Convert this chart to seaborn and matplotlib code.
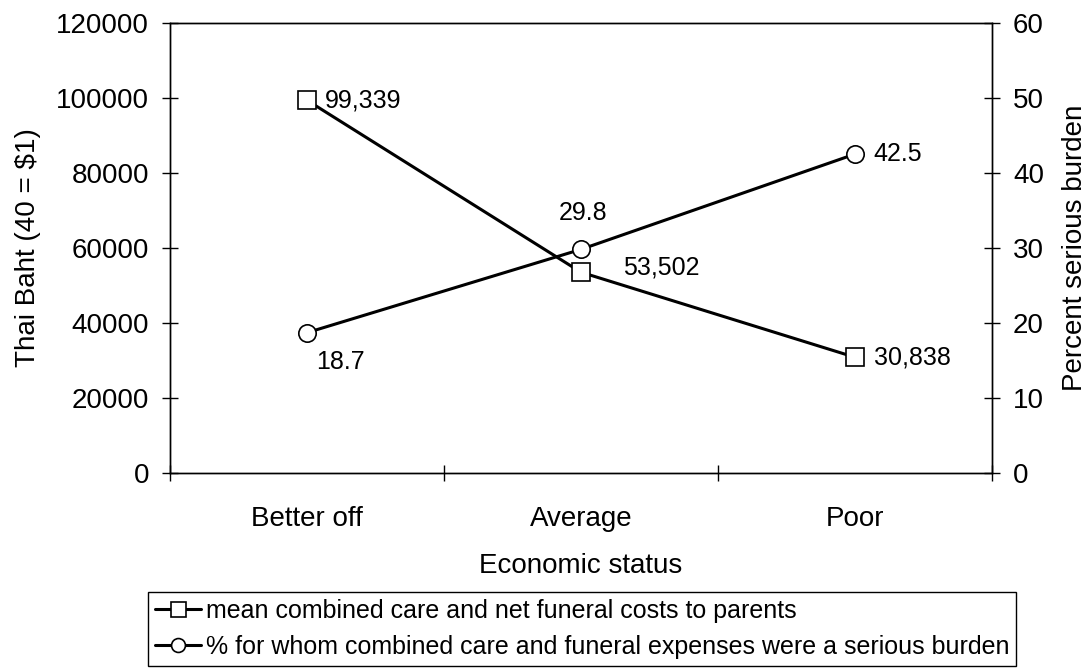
import matplotlib
matplotlib.use("Agg")
import matplotlib.pyplot as plt
import seaborn as sns
import pandas as pd

# Data
categories = ["Better off", "Average", "Poor"]
mean_cost_baht = [99339, 53502, 30838]
pct_serious_burden = [18.7, 29.8, 42.5]

cost_label = "mean combined care and net funeral costs to parents"
burden_label = "% for whom combined care and funeral expenses were a serious burden"

sns.set_style("ticks")
plt.rcParams["font.family"] = ["Liberation Sans", "DejaVu Sans"]
plt.rcParams["axes.linewidth"] = 1.0
plt.rcParams["axes.edgecolor"] = "black"
plt.rcParams["text.color"] = "black"
plt.rcParams["axes.labelcolor"] = "black"
plt.rcParams["xtick.color"] = "black"
plt.rcParams["ytick.color"] = "black"

df = pd.DataFrame({
    "status": categories,
    "cost": mean_cost_baht,
    "burden": pct_serious_burden,
})

fig = plt.figure(figsize=(10.91, 6.69), dpi=100)
ax = fig.add_axes([0.1558, 0.293, 0.9093 - 0.1558, 0.966 - 0.293])
ax2 = ax.twinx()

line_kw = dict(color="black", linewidth=2.2, markerfacecolor="white",
               markeredgecolor="black", markeredgewidth=1.2, legend=False)

sns.lineplot(data=df, x="status", y="cost", marker="s", markersize=13.5,
             ax=ax, **line_kw)
sns.lineplot(data=df, x="status", y="burden", marker="o", markersize=12.5,
             ax=ax2, **line_kw)

# Axis ranges
ax.set_xlim(-0.5, 2.5)
ax.set_ylim(0, 120000)
ax2.set_ylim(0, 60)
ax.set_yticks(range(0, 120001, 20000))
ax2.set_yticks(range(0, 61, 10))

# Category ticks sit between categories, labels centred under them
ax.set_xticks([-0.5, 0.5, 1.5, 2.5])
ax.set_xticklabels([])
ax.set_xticks([0, 1, 2], minor=True)
ax.set_xticklabels(categories, minor=True)
ax.tick_params(axis="x", which="minor", length=0, pad=24, labelsize=20)
ax.tick_params(axis="x", which="major", direction="inout", length=12, width=1)
ax.tick_params(axis="y", direction="inout", length=12, width=1, pad=9,
               labelsize=20)
ax2.tick_params(axis="y", direction="inout", length=12, width=1, pad=9,
                labelsize=20)

ax.set_xlabel("Economic status", fontsize=20, labelpad=15)
ax.set_ylabel("Thai Baht (40 = $1)", fontsize=20, labelpad=11)
ax2.set_ylabel("Percent serious burden", fontsize=20, labelpad=13)

for a in (ax, ax2):
    for s in a.spines.values():
        s.set_visible(True)
        s.set_color("black")
        s.set_linewidth(1.0)

# Value labels
cost_offsets = [(13, 0), (30, 3.5), (13.5, 0)]
for i, (v, off) in enumerate(zip(mean_cost_baht, cost_offsets)):
    ax.annotate(f"{v:,}", xy=(i, v), xytext=off, textcoords="offset points",
                ha="left", va="center", fontsize=18)

burden_offsets = [((24, -21), "center"), ((1.5, 26), "center"), ((13, 0), "left")]
for i, (v, (off, ha)) in enumerate(zip(pct_serious_burden, burden_offsets)):
    ax2.annotate(f"{v:.1f}", xy=(i, v), xytext=off, textcoords="offset points",
                 ha=ha, va="center", fontsize=18)

handles = [ax.lines[0], ax2.lines[0]]
leg = fig.legend(handles, [cost_label, burden_label], loc="center",
                 bbox_to_anchor=(0.5335, 0.0598), frameon=True, fancybox=False,
                 edgecolor="black", framealpha=1, fontsize=18, borderpad=0.28,
                 labelspacing=0.48, handlelength=1.84, handletextpad=0.2,
                 borderaxespad=0, markerscale=0.8)
leg.get_frame().set_linewidth(1.0)

fig.savefig("out.png", dpi=100)
